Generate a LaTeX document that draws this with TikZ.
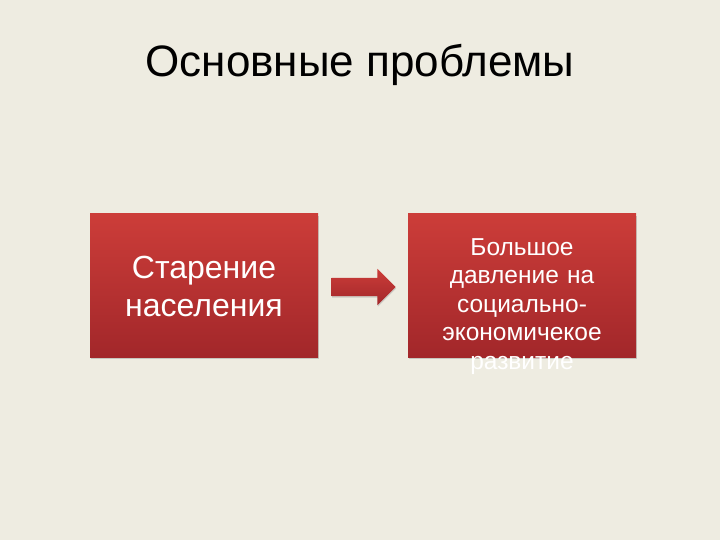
\documentclass[tikz,border=0pt]{standalone}
\usepackage{fontspec}
\setmainfont{Liberation Sans}
\usetikzlibrary{shapes.arrows,shadows}

\definecolor{slidebg}{HTML}{EEECE1}
\definecolor{redtop}{HTML}{CC3D39}
\definecolor{redbot}{HTML}{A2272A}

\tikzset{
  redbox/.style={rectangle, minimum width=228pt, minimum height=143pt,
    top color=redtop, bottom color=redbot, draw=none,
    drop shadow={opacity=0.35, shadow xshift=0.5pt, shadow yshift=-2pt}},
  boxtext/.style={text=white, text width=220pt, align=center, anchor=base},
  blockarrow/.style={single arrow, minimum height=64pt,
    single arrow head extend=9pt, inner xsep=0pt, inner ysep=9pt, draw=none,
    top color=redtop, bottom color=redbot,
    drop shadow={opacity=0.3, shadow xshift=0.5pt, shadow yshift=-1.5pt}}
}

\begin{document}
\begin{tikzpicture}[x=1pt,y=-1pt]
            %slide
            \fill[slidebg] (0,0) rectangle (720,540);
            \useasboundingbox (0,0) rectangle (720,540);

            \node[anchor=base, font=\fontsize{44}{52}\selectfont] (title) at (360,77)
              {Основные проблемы};

            %boxes
            \node[redbox] (ageing) at (204,285.5) {};

            \node[boxtext, font=\fontsize{32}{38}\selectfont] (ageingtxt) at (204,278)
              {Старение\\населения};

            \node[redbox] (pressure) at (522,285.5) {};

            \node[boxtext, font=\fontsize{24.5}{28.6}\selectfont] (pressuretxt) at (522,255)
              {Большое\\давление на\\социально-\\экономичекое\\развитие};

            %arrow
            \node[blockarrow] (step) at (359,287) {};
        \end{tikzpicture}
\end{document}
